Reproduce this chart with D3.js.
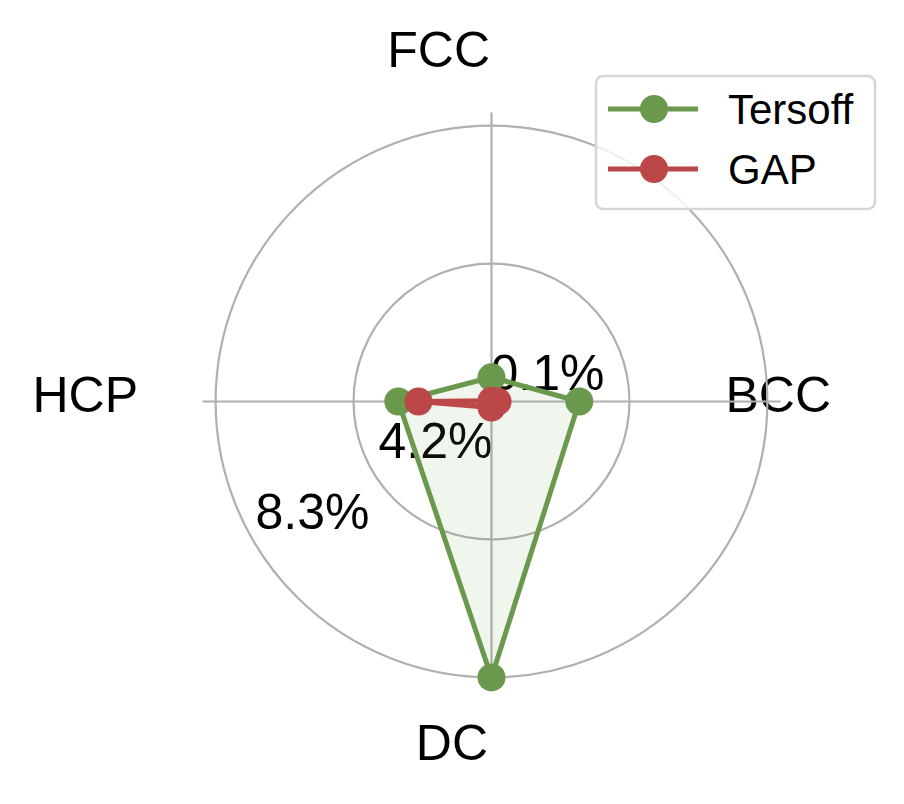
<!DOCTYPE html>
<html>
<head>
<meta charset="utf-8">
<script src="https://cdn.jsdelivr.net/npm/d3@7"></script>
<style>
  html, body { margin: 0; padding: 0; background: #fff; }
  svg { display: block; }
  text { font-family: "Liberation Sans", Arial, Helvetica, sans-serif; fill: #000; }
</style>
</head>
<body>
<svg id="chart" width="904" height="804"></svg>
<script>
// ---- data ----
const categories = ["FCC", "BCC", "DC", "HCP"];
const tersoff = [0.82, 2.71, 8.3, 2.87];
const gap = [0.12, 0.28, 0.28, 2.27];
const seriesNames = ["Tersoff", "GAP"];
const radialTicks = [0.1, 4.2, 8.3];
const radialTickLabels = ["0.1%", "4.2%", "8.3%"];
const rDomain = [0.1, 8.69];

// ---- setup ----
const svg = d3.select("#chart");
const cx = 491.5, cy = 401.5;
const colors = ["#6a994e", "#bc4749"];
const r = d3.scaleLinear().domain(rDomain).range([0, 289]);
const angle = d3.scalePoint().domain(categories).range([0, 2 * Math.PI * (categories.length - 1) / categories.length]);
const g = svg.append("g").attr("transform", `translate(${cx},${cy})`);

// category labels (placed as in the reference)
const catPos = {
  FCC: { x: -1.5, y: -335, anchor: "end" },
  BCC: { x: 234, y: 10, anchor: "start" },
  DC: { x: -3.5, y: 358, anchor: "end" },
  HCP: { x: -459, y: 10, anchor: "start" }
};
g.selectAll("text.cat").data(categories).join("text")
  .attr("class", "cat")
  .attr("x", d => catPos[d].x)
  .attr("y", d => catPos[d].y)
  .attr("text-anchor", d => catPos[d].anchor)
  .attr("font-size", 50)
  .text(d => d);

// radial tick labels
const rlPos = [
  { x: -1, y: -11.5, anchor: "start" },
  { x: 1, y: 56.5, anchor: "end" },
  { x: -122, y: 127, anchor: "end" }
];
g.selectAll("text.rl").data(radialTickLabels).join("text")
  .attr("class", "rl")
  .attr("x", (d, i) => rlPos[i].x)
  .attr("y", (d, i) => rlPos[i].y)
  .attr("text-anchor", (d, i) => rlPos[i].anchor)
  .attr("font-size", 50)
  .text(d => d);

// grid circles
g.selectAll("circle.grid").data(radialTicks.filter(t => r(t) > 0)).join("circle")
  .attr("class", "grid")
  .attr("r", d => r(d))
  .attr("fill", "none")
  .attr("stroke", "#b0b0b0")
  .attr("stroke-width", 2.2);

// spokes
g.selectAll("line.spoke").data(categories).join("line")
  .attr("class", "spoke")
  .attr("x1", 0).attr("y1", 0)
  .attr("x2", d => r(rDomain[1]) * Math.sin(angle(d)))
  .attr("y2", d => -r(rDomain[1]) * Math.cos(angle(d)))
  .attr("stroke", "#b0b0b0")
  .attr("stroke-width", 2.2);

// series
const radial = d3.lineRadial()
  .angle((d, i) => angle(categories[i]))
  .radius(d => r(d))
  .curve(d3.curveLinearClosed);

[tersoff, gap].forEach((vals, si) => {
  const sg = g.append("g");
  sg.append("path")
    .attr("d", radial(vals))
    .attr("fill", colors[si])
    .attr("fill-opacity", 0.1)
    .attr("stroke", colors[si])
    .attr("stroke-width", 5)
    .attr("stroke-linejoin", "round");
  sg.selectAll("circle").data(vals).join("circle")
    .attr("cx", (d, i) => r(d) * Math.sin(angle(categories[i])))
    .attr("cy", (d, i) => -r(d) * Math.cos(angle(categories[i])))
    .attr("r", 14)
    .attr("fill", colors[si]);
});

// legend
const lg = svg.append("g");
lg.append("rect")
  .attr("x", 596).attr("y", 76)
  .attr("width", 279).attr("height", 133)
  .attr("rx", 7).attr("ry", 7)
  .attr("fill", "#fff").attr("fill-opacity", 0.8)
  .attr("stroke", "#d6d6d6").attr("stroke-width", 2.5);
seriesNames.forEach((name, i) => {
  const y = 109 + i * 60;
  lg.append("line").attr("x1", 608).attr("x2", 698).attr("y1", y).attr("y2", y)
    .attr("stroke", colors[i]).attr("stroke-width", 5);
  lg.append("circle").attr("cx", 654).attr("cy", y).attr("r", 14).attr("fill", colors[i]);
  lg.append("text").attr("x", 728).attr("y", y + 15).attr("font-size", 42).text(name);
});
</script>
</body>
</html>
